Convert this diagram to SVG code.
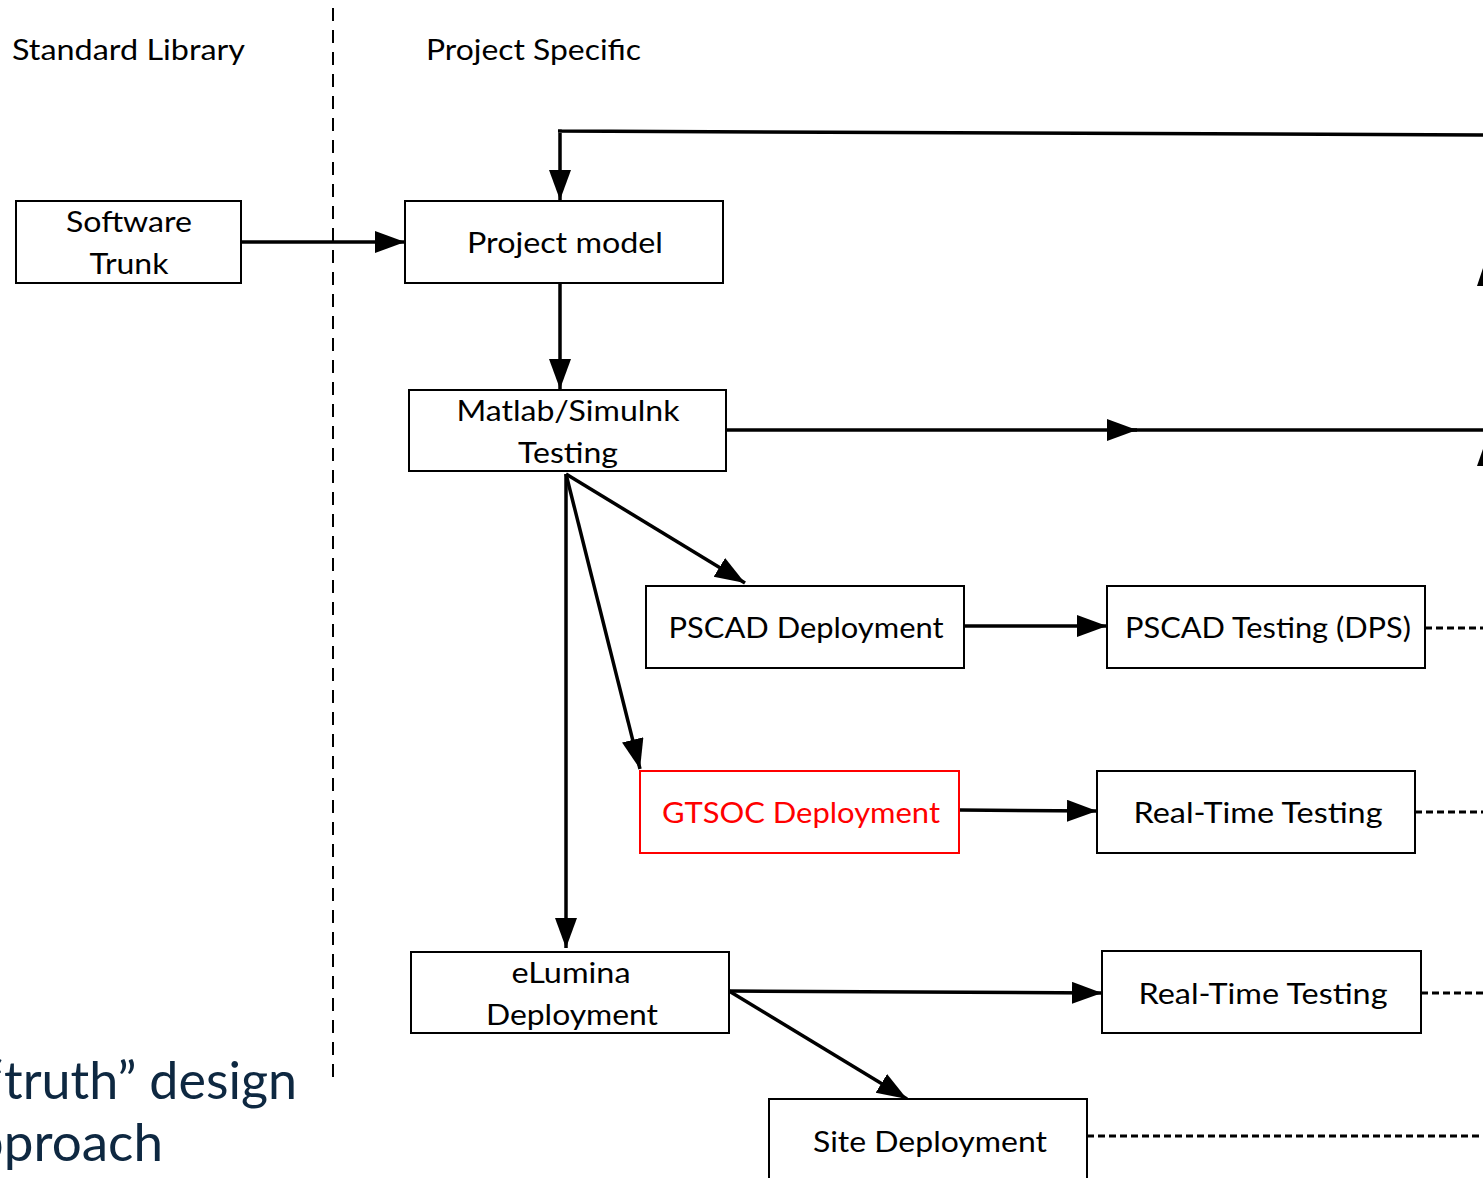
<svg xmlns="http://www.w3.org/2000/svg" width="1483" height="1178" viewBox="0 0 1483 1178">
<style>
.box{fill:#fff;stroke:#000;stroke-width:2}
.red{fill:#fff;stroke:#ff0000;stroke-width:2}
.t{font-family:Lato,"Liberation Sans",sans-serif;font-size:29px;fill:#000;text-anchor:middle}
.h{font-family:Lato,"Liberation Sans",sans-serif;font-size:29px;fill:#000}
.c{fill:none;stroke:#000;stroke-width:3.5}
.d{fill:none;stroke:#000;stroke-width:3.2;stroke-dasharray:7 4}
.big{font-family:Lato,"Liberation Sans",sans-serif;font-size:53px;fill:#0E2841;text-anchor:end}
</style>
<defs>
<marker id="ah" markerUnits="userSpaceOnUse" markerWidth="32" markerHeight="24" refX="30" refY="11" orient="auto">
<path d="M0,0 L30,11 L0,22 z" fill="#000"/>
</marker>
</defs>
<rect width="1483" height="1178" fill="#fff"/>
<line x1="333" y1="8" x2="333" y2="1082" stroke="#000" stroke-width="2" stroke-dasharray="13 9"/>
<text class="h" x="12" y="60" textLength="233" lengthAdjust="spacingAndGlyphs">Standard Library</text>
<text class="h" x="426" y="60" textLength="215" lengthAdjust="spacingAndGlyphs">Project Specific</text>
<text class="big" x="297" y="1099" textLength="312" lengthAdjust="spacingAndGlyphs">“truth” design</text>
<text class="big" x="163" y="1161">approach</text>
<g id="connectors">
<path class="c" d="M1483,135 L558,131 L560,131 L560,200" marker-end="url(#ah)"/>
<line class="c" x1="241" y1="242" x2="405" y2="242" marker-end="url(#ah)"/>
<line class="c" x1="560" y1="283" x2="560" y2="389" marker-end="url(#ah)"/>
<line class="c" x1="726" y1="430" x2="1137" y2="430" marker-end="url(#ah)"/>
<line class="c" x1="1130" y1="430" x2="1483" y2="430"/>
<line class="c" x1="566" y1="474" x2="745" y2="583" marker-end="url(#ah)"/>
<line class="c" x1="566" y1="474" x2="640" y2="769" marker-end="url(#ah)"/>
<line class="c" x1="566" y1="474" x2="566" y2="948" marker-end="url(#ah)"/>
<line class="c" x1="964" y1="626" x2="1107" y2="626" marker-end="url(#ah)"/>
<line class="c" x1="959" y1="810" x2="1097" y2="811" marker-end="url(#ah)"/>
<line class="c" x1="729" y1="991" x2="1102" y2="993" marker-end="url(#ah)"/>
<line class="c" x1="729" y1="991" x2="907" y2="1099" marker-end="url(#ah)"/>
<line class="d" x1="1425" y1="628" x2="1483" y2="628"/>
<line class="d" x1="1415" y1="812" x2="1483" y2="812"/>
<line class="d" x1="1421" y1="993" x2="1483" y2="993"/>
<line class="d" x1="1087" y1="1136" x2="1483" y2="1136"/>
<polygon points="1483,268 1477,286 1483,286" fill="#000"/>
<polygon points="1483,449 1477,466 1483,466" fill="#000"/>
</g>
<g id="software-trunk">
<rect class="box" x="16" y="201" width="225" height="82"/>
<text class="t" x="129" y="232" textLength="126" lengthAdjust="spacingAndGlyphs">Software</text>
<text class="t" x="129" y="274" textLength="79" lengthAdjust="spacingAndGlyphs">Trunk</text>
</g>
<g id="project-model">
<rect class="box" x="405" y="201" width="318" height="82"/>
<text class="t" x="565" y="253" textLength="196" lengthAdjust="spacingAndGlyphs">Project model</text>
</g>
<g id="matlab">
<rect class="box" x="409" y="390" width="317" height="81"/>
<text class="t" x="568" y="421" textLength="223" lengthAdjust="spacingAndGlyphs">Matlab/Simulnk</text>
<text class="t" x="568" y="463" textLength="100" lengthAdjust="spacingAndGlyphs">Testing</text>
</g>
<g id="pscad-deployment">
<rect class="box" x="646" y="586" width="318" height="82"/>
<text class="t" x="806" y="638" textLength="275" lengthAdjust="spacingAndGlyphs">PSCAD Deployment</text>
</g>
<g id="pscad-testing">
<rect class="box" x="1107" y="586" width="318" height="82"/>
<text class="t" x="1268" y="638" textLength="286" lengthAdjust="spacingAndGlyphs">PSCAD Testing (DPS)</text>
</g>
<g id="gtsoc">
<rect class="red" x="640" y="771" width="319" height="82"/>
<text class="t" x="801" y="823" textLength="278" lengthAdjust="spacingAndGlyphs" style="fill:#ff0000">GTSOC Deployment</text>
</g>
<g id="rt-testing-1">
<rect class="box" x="1097" y="771" width="318" height="82"/>
<text class="t" x="1258" y="823" textLength="249" lengthAdjust="spacingAndGlyphs">Real-Time Testing</text>
</g>
<g id="elumina">
<rect class="box" x="411" y="952" width="318" height="81"/>
<text class="t" x="571" y="983" textLength="119" lengthAdjust="spacingAndGlyphs">eLumina</text>
<text class="t" x="572" y="1025" textLength="172" lengthAdjust="spacingAndGlyphs">Deployment</text>
</g>
<g id="rt-testing-2">
<rect class="box" x="1102" y="951" width="319" height="82"/>
<text class="t" x="1263" y="1004" textLength="249" lengthAdjust="spacingAndGlyphs">Real-Time Testing</text>
</g>
<g id="site-deployment">
<rect class="box" x="769" y="1099" width="318" height="90"/>
<text class="t" x="930" y="1152" textLength="234" lengthAdjust="spacingAndGlyphs">Site Deployment</text>
</g>
</svg>
